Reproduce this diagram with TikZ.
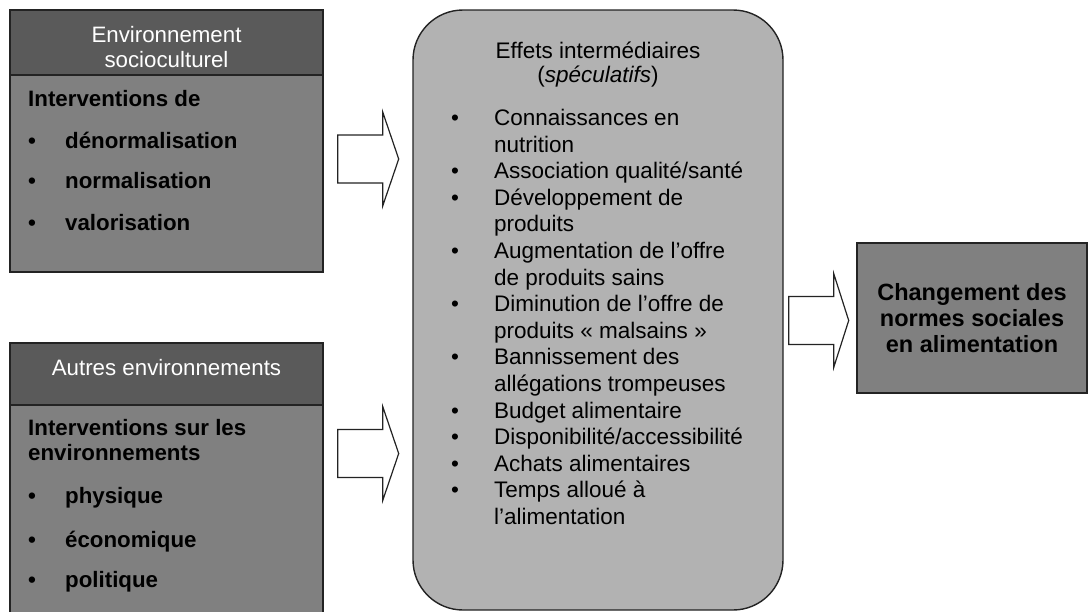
\documentclass[tikz,border=0pt]{standalone}
\usepackage{fontspec}
\setmainfont{Liberation Sans}
\usetikzlibrary{calc}

\definecolor{hdgray}{RGB}{90,90,90}
\definecolor{midgray}{RGB}{128,128,128}
\definecolor{ltgray}{RGB}{178,178,178}
\definecolor{edge}{RGB}{35,35,35}

\newcommand{\bul}[1]{\makebox[37pt][l]{\textbullet}#1}
\newcommand{\eff}{\makebox[43pt][l]{\textbullet}}
\newcommand{\cont}{\hspace*{43pt}}

\begin{document}
\begin{tikzpicture}[x=1pt, y=-1pt,
    box/.style={draw=edge, line width=1.4pt, inner sep=0pt},
    head/.style={box, fill=hdgray, minimum width=313pt},
    body/.style={box, fill=midgray, minimum width=313pt},
    headtext/.style={anchor=north, text=white, align=center, inner sep=0pt,
      font=\fontsize{22.3}{25}\selectfont},
    bodytext/.style={anchor=north west, align=left, inner sep=0pt,
      font=\bfseries\fontsize{22.3}{25.5}\selectfont},
    listtext/.style={anchor=north west, align=left, inner sep=0pt,
      font=\fontsize{22.5}{26.6}\selectfont},
    hollow/.style={draw=edge, fill=white, line width=1.2pt, line join=miter}]

  \clip (0,0) rectangle (1089,611);

  % left column
  \node[body, minimum height=262pt] (soc) at (166.5,141) {};
  \node[head, minimum height=65pt] (sochead) at (166.5,42.5) {};
  \node[headtext] (soctitle) at (166.5,26) {Environnement\\socioculturel};
  \node[bodytext] (socint) at (28,90) {Interventions de\\[16.5pt]\bul{dénormalisation}\\[14.5pt]\bul{normalisation}\\[16.5pt]\bul{valorisation}};

  \node[body, minimum height=290pt] (aut) at (166.5,488) {};
  \node[head, minimum height=62pt] (authead) at (166.5,374) {};
  \node[headtext] (auttitle) at (166.5,359) {Autres environnements};
  \node[bodytext] (autint) at (28,419) {Interventions sur les\\environnements\\[17.5pt]\bul{physique}\\[18.5pt]\bul{économique}\\[14.5pt]\bul{politique}};

  % middle
  \node[box, fill=ltgray, rounded corners=50pt, minimum width=370pt, minimum height=600pt] (eff) at (598,310) {};
  \node[headtext, text=black, font=\fontsize{22.5}{24.5}\selectfont] (efftitle) at (598,41.5) {Effets intermédiaires\\(\textit{spéculatifs})};
  \node[listtext] (efflist) at (451,109) {\eff Connaissances en\\
    \cont nutrition\\
    \eff Association qualité/santé\\
    \eff Développement de\\
    \cont produits\\
    \eff Augmentation de l'offre\\
    \cont de produits sains\\
    \eff Diminution de l'offre de\\
    \cont produits «~malsains~»\\
    \eff Bannissement des\\
    \cont allégations trompeuses\\
    \eff Budget alimentaire\\
    \eff Disponibilité/accessibilité\\
    \eff Achats alimentaires\\
    \eff Temps alloué à\\
    \cont l'alimentation};

  % right
  \node[box, fill=midgray, minimum width=230pt, minimum height=150pt, align=center,
    font=\bfseries\fontsize{23.5}{26}\selectfont] (norm) at (972,318) {Changement des\\normes sociales\\en alimentation};

  % arrows
  \draw[hollow] ($(soc.east)+(14,18)$) ++(0,-24) -- ++(45,0) -- ++(0,-23) -- ++(16,47) -- ++(-16,47) -- ++(0,-23) -- ++(-45,0) -- cycle;
  \draw[hollow] ($(aut.east)+(14,-34.5)$) ++(0,-24) -- ++(45,0) -- ++(0,-23) -- ++(16,47) -- ++(-16,47) -- ++(0,-23) -- ++(-45,0) -- cycle;
  \draw[hollow] ($(eff.east)+(5,10.5)$) ++(0,-24) -- ++(45,0) -- ++(0,-23) -- ++(15,47) -- ++(-15,47) -- ++(0,-23) -- ++(-45,0) -- cycle;
\end{tikzpicture}
\end{document}
